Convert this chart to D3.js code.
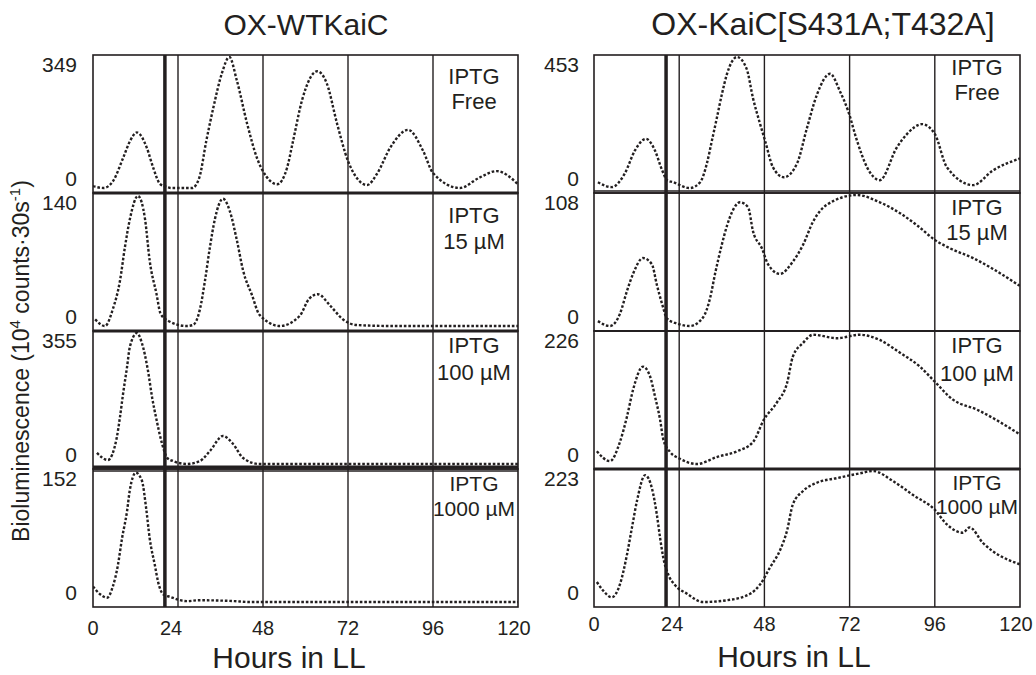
<!DOCTYPE html>
<html lang="en">
<head>
<meta charset="utf-8">
<title>KaiC bioluminescence traces</title>
<script src="https://cdn.jsdelivr.net/npm/d3@7"></script>
<style>
	body { margin: 0; background: #fff; }
	svg text { font-family: "Liberation Sans", Arial, Helvetica, sans-serif; fill: #231f20; }
</style>
</head>
<body>
<div id="vis"></div>
<script>

var w = 1036;
var h = 675;

// axis + labels
var hourTicks = [0, 24, 48, 72, 96, 120];
var gridHours = [24, 48, 72, 96];
var transferHour = 20.3;
var columnTitles = ["OX-WTKaiC", "OX-KaiC[S431A;T432A]"];
var iptgLabels = [["IPTG", "Free"], ["IPTG", "15 \u00b5M"], ["IPTG", "100 \u00b5M"], ["IPTG", "1000 \u00b5M"]];
var wtMax = [349, 140, 355, 152];
var mutMax = [453, 108, 226, 223];

// OX-WTKaiC traces [hour, value]
var wtFree = [[0,5],[3,0],[5.7,19],[8.5,80],[10.5,126],[12.4,148],[15.2,107],[17,54],[19,10],[21,3],[22,0],[28,0],
	[30,27],[32,126],[34,215],[36.4,306],[38.5,349],[40.6,287],[43.5,172],[46.3,80],[49,30],[52,10],[54.8,54],
	[56.5,126],[59,233],[63.3,311],[66,279],[68.9,172],[72,72],[77.4,8],[80.2,38],[83.9,107],[89,155],[93.2,99],
	[96,40],[103.6,0],[109,27],[114,45],[120,10]];
var wt15 = [[0.6,7],[3.4,0],[5.6,18],[7.6,48],[9,84],[10.4,114],[12.7,139],[14.7,114],[16,70],[18,33],[19,14],
	[21,6],[26.5,0],[28.2,1],[30.2,18],[31.6,48],[33,84],[34.4,114],[36.7,136],[38.7,122],[40.6,92],[42.4,59],
	[44.9,33],[47,12],[52.8,0],[58.4,11],[61,29],[63.5,34],[66.9,22],[70.6,7],[74.5,1],[85,0],[120,0]];
var wt100 = [[1.1,30],[4.2,11],[6.7,71],[7.6,126],[8.5,191],[9.6,262],[10.4,317],[12.4,355],[13.8,328],[15.5,254],
	[16.7,180],[18,117],[19.5,55],[21,16],[22.6,8],[26.5,0],[30.2,8],[33,35],[36.7,76],[39.5,55],[42.4,16],
	[47,0],[120,0]];
var wt1000 = [[0,18],[2,9],[4,5],[5.6,18],[7,42],[8.2,74],[9.6,105],[10.4,130],[12.1,150],[13.8,141],[15,109],
	[16,74],[17.5,42],[18.4,23],[19.8,9],[21.7,6],[26.5,1],[30,2],[40,1],[44,0],[120,0]];

// OX-KaiC[S431A;T432A] traces [hour, value]
var mutFree = [[1.1,20],[5,3],[8.7,51],[11.5,129],[14.6,170],[17.2,129],[19.2,61],[20.6,27],[22.3,20],[27,0],
	[29.9,20],[31.8,85],[33.2,163],[34.6,242],[36,323],[37.4,392],[40.3,453],[43,412],[44.8,310],[46.8,221],
	[48.2,163],[50.4,72],[53.5,37],[57.2,85],[60,208],[62.8,323],[66.5,395],[69.3,334],[71.6,266],[74.1,163],
	[76.9,72],[80.5,27],[85.3,140],[88.2,187],[92.4,221],[96,187],[99.4,72],[106.8,10],[112.4,61],[120,102]];
var mut15 = [[1.1,4],[4.5,0],[7.3,10],[9.3,29],[11,43],[13.8,56],[16.3,51],[17.7,34],[19.2,18],[20.6,6],[23.4,2],
	[27,0],[30.7,7],[32.7,23],[34.1,43],[36,67],[37.5,83],[38.9,94],[41.1,102],[43.4,98],[44.8,78],[47.3,64],
	[49,51],[52.4,43],[56,53],[58.9,67],[61.7,86],[65.6,100],[74.1,108],[80.5,102],[86.2,93],[91,83],[96,71],
	[100.3,64],[106.8,56],[112.4,47],[120,33]];
var mut100 = [[0.8,22],[4.5,5],[7.3,38],[9.3,82],[11,128],[13.8,168],[15.8,151],[17.2,116],[18.6,77],[19.5,43],
	[21.4,21],[24.2,9],[29,0],[34.6,12],[40.3,22],[44.8,38],[47.9,77],[51.5,106],[54.4,140],[56,185],[58.9,209],
	[61.7,223],[68.5,217],[74.9,223],[80.5,214],[86.2,192],[91.8,168],[96,142],[101.1,111],[107.8,94],[120,51]];
var mut1000 = [[0.8,34],[2.5,20],[5,8],[7.3,30],[9.3,81],[10.7,127],[12.1,172],[14.4,216],[16.3,194],[17.7,149],
	[18.6,110],[19.5,76],[20.9,47],[22.8,29],[26.2,14],[30.7,0],[37.5,3],[44,14],[46.8,30],[49.6,59],[52.4,88],
	[54.4,122],[56,166],[58.9,189],[62.8,203],[68.5,211],[74.9,219],[78.6,223],[84.2,206],[89.9,182],[96,157],
	[99.4,132],[103.9,118],[105.8,127],[109.5,101],[120,64]];

var panelTops = [55, 193, 331, 469];
var panelH = 138;

var columns = [
	{ x0: 93, x1: 518, title: columnTitles[0], titleX: 306, titleSize: 30, traces: [wtFree, wt15, wt100, wt1000], maxes: wtMax,
	  labelX: 474, labelDy: [[29, 54], [30, 56], [22, 49], [22, 47]], valueX: 77, tickY: 635, xTitleX: 289, xTitleY: 668,
	  seps: [[193, 3], [331, 3], [467, 3], [471, 1.3]] },
	{ x0: 594, x1: 1020, title: columnTitles[1], titleX: 823, titleSize: 32, traces: [mutFree, mut15, mut100, mut1000], maxes: mutMax,
	  labelX: 977, labelDy: [[20, 45], [22, 47], [22, 50], [21, 45]], valueX: 579, tickY: 631, xTitleX: 794, xTitleY: 667,
	  seps: [[191, 1.6], [331, 1.8], [469, 3]] }
];

var ink = "#231f20";

var svg = d3.select("#vis")
	.append("svg")
	.attr("width", w)
	.attr("height", h);

//Y axis title
var yTitle = svg.append("text")
	.attr("transform", "translate(29,361) rotate(-90)")
	.attr("text-anchor", "middle")
	.attr("font-size", "23px");
yTitle.append("tspan").text("Bioluminescence (10");
yTitle.append("tspan").attr("dy", -9).attr("font-size", "15px").text("4");
yTitle.append("tspan").attr("dy", 9).text(" counts\u00b730s");
yTitle.append("tspan").attr("dy", -9).attr("font-size", "15px").text("-1");
yTitle.append("tspan").attr("dy", 9).text(")");

columns.forEach(function(col, ci) {

	var xScale = d3.scaleLinear()
		.domain([0, 120])
		.range([col.x0, col.x1]);

	var g = svg.append("g");

	//Column title
	g.append("text")
		.attr("x", col.titleX)
		.attr("y", 35)
		.attr("text-anchor", "middle")
		.attr("font-size", col.titleSize + "px")
		.text(col.title);

	col.traces.forEach(function(trace, pi) {
		var top = panelTops[pi];
		var bottom = top + panelH;

		var yScale = d3.scaleLinear()
			.domain([0, col.maxes[pi]])
			.range([bottom - 5, top + 2]);

		var clipId = "clip" + ci + "_" + pi;
		svg.append("clipPath")
			.attr("id", clipId)
			.append("rect")
			.attr("x", col.x0)
			.attr("y", top)
			.attr("width", col.x1 - col.x0)
			.attr("height", panelH);

		//Panel frame
		g.append("rect")
			.attr("x", col.x0)
			.attr("y", top)
			.attr("width", col.x1 - col.x0)
			.attr("height", panelH)
			.attr("fill", "none")
			.attr("stroke", ink)
			.attr("stroke-width", 1.6);

		//Day gridlines
		g.selectAll(null)
			.data(gridHours)
			.enter()
			.append("line")
			.attr("x1", function(d) { return xScale(d); })
			.attr("x2", function(d) { return xScale(d); })
			.attr("y1", top)
			.attr("y2", bottom)
			.attr("stroke", ink)
			.attr("stroke-width", 1.4);

		//Transfer line
		g.append("line")
			.attr("x1", xScale(transferHour))
			.attr("x2", xScale(transferHour))
			.attr("y1", top)
			.attr("y2", bottom)
			.attr("stroke", ink)
			.attr("stroke-width", 3.5);

		//Trace
		var line = d3.line()
			.x(function(d) { return xScale(d[0]); })
			.y(function(d) { return yScale(d[1]); })
			.curve(d3.curveMonotoneX);

		g.append("path")
			.datum(trace)
			.attr("clip-path", "url(#" + clipId + ")")
			.attr("d", line)
			.attr("fill", "none")
			.attr("stroke", ink)
			.attr("stroke-width", 2.4)
			.attr("stroke-dasharray", "2.6,1.9");

		//Max / zero labels
		g.append("text")
			.attr("x", col.valueX)
			.attr("y", top + 17)
			.attr("text-anchor", "end")
			.attr("font-size", "21px")
			.text(col.maxes[pi]);
		g.append("text")
			.attr("x", col.valueX)
			.attr("y", bottom - 7)
			.attr("text-anchor", "end")
			.attr("font-size", "21px")
			.text(0);

		//IPTG labels
		iptgLabels[pi].forEach(function(s, li) {
			g.append("text")
				.attr("x", col.labelX)
				.attr("y", top + col.labelDy[pi][li])
				.attr("text-anchor", "middle")
				.attr("font-size", pi == 3 ? "21px" : "22px")
				.text(s);
		});
	});

	//Separators between panels
	col.seps.forEach(function(s) {
		g.append("line")
			.attr("x1", col.x0)
			.attr("x2", col.x1)
			.attr("y1", s[0])
			.attr("y2", s[0])
			.attr("stroke", ink)
			.attr("stroke-width", s[1]);
	});

	//Hour tick labels
	g.selectAll(null)
		.data(hourTicks)
		.enter()
		.append("text")
		.attr("x", function(d) { return xScale(d) - (d == 24 ? 7 : 0) - (d == 120 ? 4 : 0); })
		.attr("y", col.tickY)
		.attr("text-anchor", "middle")
		.attr("font-size", "20px")
		.text(function(d) { return d; });

	//X axis title
	g.append("text")
		.attr("x", col.xTitleX)
		.attr("y", col.xTitleY)
		.attr("text-anchor", "middle")
		.attr("font-size", "30px")
		.text("Hours in LL");
});

</script>
</body>
</html>
